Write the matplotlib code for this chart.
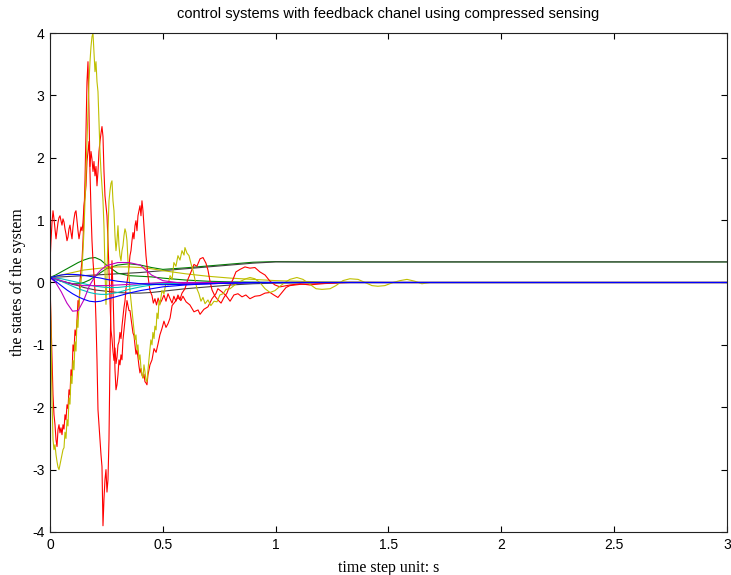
import numpy as np
import matplotlib
matplotlib.use("Agg")
import matplotlib.pyplot as plt

plt.rcParams["axes.unicode_minus"] = False

# colores por defecto de MATLAB (ColorOrder antiguo)
C_B = (0, 0, 1)
C_G = (0, 0.5, 0)
C_R = (1, 0, 0)
C_C = (0, 0.75, 0.75)
C_M = (0.75, 0, 0.75)
C_Y = (0.75, 0.75, 0)
C_K = (0.25, 0.25, 0.25)

# --- estados ruidosos: tramo inicial (paso fino) ---
t_early = np.linspace(0, 0.443, 101)

red1_early = [0.32, 0.67, 0.96, 1.15, 1.02, 0.86, 0.70, 0.83, 0.96, 1.04,
              1.07, 0.99, 0.92, 1.02, 0.97, 0.86, 0.78, 0.67, 0.73, 0.86,
              0.92, 0.80, 0.70, 0.89, 1.02, 1.12, 1.15, 0.99, 0.83, 0.70,
              0.80, 0.89, 0.83, 0.96, 1.23, 1.37, 1.55, 1.94, 2.10, 2.26,
              1.86, 2.10, 1.98, 1.78, 1.94, 1.71, 1.86, 1.55, 1.78, 2.10,
              2.26, 2.39, 2.50, 2.34, 1.78, 1.39, 1.23, 1.07, 0.67, 0.19,
              -0.29, -0.76, -0.90, -1.10, -1.25, -1.05, -1.30, -1.20, -1.00, -0.95,
              -0.80, -0.90, -0.70, -0.55, -0.40, -0.30, -0.10, 0.00, 0.10, 0.25,
              0.43, 0.51, 0.67, 0.80, 0.70, 0.91, 0.99, 0.83, 1.07, 1.15,
              1.23, 1.07, 1.31, 1.15, 0.91, 0.67, 0.43, 0.27, 0.11, -0.02,
              -0.13]
red1_tail_t = [0.452, 0.458, 0.465, 0.472, 0.479, 0.487, 0.496, 0.505, 0.514, 0.523,
               0.532, 0.541, 0.549, 0.558, 0.567, 0.576, 0.585, 0.598,
               0.611, 0.625, 0.638, 0.651, 0.665, 0.678, 0.691, 0.700, 0.709, 0.718,
               0.731, 0.744, 0.758, 0.771, 0.784, 0.798, 0.811, 0.824, 0.842, 0.864,
               0.886, 0.908, 0.930, 0.953, 0.975, 0.997, 1.019, 1.063, 1.108, 1.152,
               1.196, 1.285, 3.0]
red1_tail_y = [-0.21, -0.33, -0.26, -0.36, -0.25, -0.34, -0.28, -0.20, -0.30, -0.18,
               -0.26, -0.33, -0.22, -0.30, -0.20, -0.27, -0.17, -0.10,
               0.05, 0.17, 0.29, 0.26, 0.38, 0.40, 0.31, 0.20, 0.02, -0.12,
               -0.22, -0.28, -0.33, -0.24, -0.17, -0.04, 0.05, 0.17, 0.21, 0.25,
               0.23, 0.24, 0.17, 0.12, 0.02, -0.04, -0.07, -0.04, -0.02, -0.04,
               -0.02, 0.00, 0.00]

red2_early = [0.00, -0.61, -1.24, -1.80, -2.12, -2.28, -2.52, -2.63, -2.36, -2.28,
              -2.41, -2.33, -2.44, -2.28, -2.35, -2.12, -2.20, -1.96, -2.02, -1.72,
              -1.80, -1.40, -1.50, -1.00, -1.10, -0.76, -0.85, -0.61, -0.29, -0.40,
              0.03, 0.19, 0.35, 0.67, 1.07, 1.63, 2.42, 3.22, 3.54, 2.74,
              1.78, 1.15, 0.67, 0.35, 0.11, -0.13, -0.61, -1.24, -2.04, -2.28,
              -2.52, -2.76, -2.95, -3.90, -3.47, -3.16, -3.00, -3.36, -3.16, -2.52,
              -1.24, -0.29, 0.35, -0.13, -0.76, -1.40, -1.72, -1.64, -1.48, -1.24,
              -1.32, -1.16, -1.24, -0.92, -0.76, -0.61, -0.45, -0.29, -0.37, -0.45,
              -0.45, -0.57, -0.69, -0.81, -0.85, -1.00, -1.15, -1.08, -1.20, -1.34,
              -1.45, -1.38, -1.48, -1.53, -1.47, -1.59, -1.61, -1.64, -1.48, -1.40,
              -1.32]
red2_tail_t = [0.452, 0.461, 0.470, 0.479, 0.487, 0.496, 0.505, 0.514, 0.523, 0.532,
               0.541, 0.554, 0.567, 0.580, 0.589, 0.603, 0.620, 0.638, 0.656, 0.665,
               0.682, 0.700, 0.718, 0.735, 0.744, 0.762, 0.780, 0.798, 0.815, 0.833,
               0.851, 0.868, 0.886, 0.908, 0.930, 0.953, 0.975, 0.992, 1.010, 1.028,
               1.046, 1.063, 1.108, 1.196, 1.329, 3.0]
red2_tail_y = [-1.24, -1.06, -1.12, -0.98, -0.84, -0.74, -0.62, -0.72, -0.66, -0.57,
               -0.37, -0.31, -0.24, -0.29, -0.22, -0.31, -0.36, -0.47, -0.44, -0.51,
               -0.43, -0.39, -0.26, -0.18, -0.10, -0.15, -0.21, -0.30, -0.20, -0.18,
               -0.23, -0.20, -0.26, -0.22, -0.21, -0.17, -0.16, -0.20, -0.24, -0.16,
               -0.08, -0.05, -0.03, -0.02, 0.00, 0.00]

yellow1_early = [0.00, -0.76, -1.88, -2.52, -2.68, -2.60, -2.76, -2.87, -2.96, -3.00,
                 -2.92, -2.84, -2.76, -2.68, -2.65, -2.40, -2.50, -2.20, -2.30, -1.85,
                 -1.95, -1.50, -1.62, -1.25, -1.40, -0.95, -1.10, -0.60, -0.72, -0.35,
                 -0.13, 0.00, 0.19, 0.51, 0.83, 1.31, 1.78, 2.26, 2.74, 3.22,
                 3.54, 3.78, 3.94, 4.00, 3.70, 3.38, 3.54, 3.22, 3.06, 2.58,
                 2.10, 1.78, 1.55, 1.31, 0.90, 0.20, -0.35, 0.10, 0.80, 1.31,
                 1.47, 1.59, 1.63, 1.31, 1.15, 0.75, 0.51, 0.67, 0.91, 0.59,
                 0.43, 0.35, 0.51, 0.59, 0.75, 0.86, 0.80, 0.67, 0.35, 0.11,
                 -0.13, -0.29, -0.45, -0.61, -0.76, -0.92, -0.84, -1.08, -1.00, -1.24,
                 -1.16, -1.37, -1.48, -1.53, -1.32, -1.43, -1.56, -1.59, -1.40, -1.24,
                 -1.08]
yellow1_tail_t = [0.447, 0.452, 0.456, 0.461, 0.465, 0.470, 0.474, 0.479, 0.483, 0.487,
                  0.496, 0.505, 0.514, 0.523, 0.532, 0.541, 0.549, 0.558, 0.567, 0.576,
                  0.585, 0.594, 0.598, 0.607, 0.616, 0.625, 0.634, 0.642, 0.651, 0.660,
                  0.669, 0.678, 0.687, 0.700, 0.713, 0.727, 0.740, 0.753, 0.767, 0.780,
                  0.798, 0.815, 0.833, 0.851, 0.868, 0.886, 0.908, 0.930, 0.953, 0.975,
                  0.997, 1.019, 1.041, 1.063, 1.094, 1.121, 1.152, 1.179, 1.205, 1.241,
                  1.267, 1.298, 1.329, 1.365, 1.396, 1.427, 1.453, 1.484, 1.520, 1.551,
                  1.582, 1.617, 1.648, 1.684, 3.0]
yellow1_tail_y = [-0.92, -1.00, -0.80, -0.90, -0.70, -0.76, -0.49, -0.58, -0.29, -0.36,
                  -0.13, -0.18, 0.00, -0.04, 0.11, 0.05, 0.32, 0.26, 0.43, 0.36,
                  0.51, 0.44, 0.56, 0.47, 0.43, 0.30, 0.19, 0.05, -0.10, -0.18,
                  -0.30, -0.24, -0.34, -0.28, -0.37, -0.30, -0.31, -0.20, -0.18, -0.11,
                  -0.10, -0.05, 0.00, 0.03, 0.06, 0.08, 0.06, 0.00, -0.10, -0.16,
                  -0.13, -0.06, 0.00, 0.05, 0.08, 0.05, -0.03, -0.10, -0.11, -0.10,
                  -0.05, 0.03, 0.06, 0.05, 0.00, -0.05, -0.06, -0.05, 0.00, 0.03,
                  0.05, 0.02, -0.02, 0.00, 0.00]

# --- estados suaves ---
t_s = [0, 0.025, 0.05, 0.075, 0.1, 0.125, 0.15, 0.175, 0.2, 0.225, 0.25, 0.3, 0.35,
       0.4, 0.45, 0.5, 0.6, 0.7, 0.8, 0.9, 1.0, 1.2, 1.5, 2.0, 3.0]
blue1 = [0.08, 0.10, 0.12, 0.13, 0.13, 0.125, 0.115, 0.10, 0.085, 0.07, 0.05, 0.02, 0.0,
         -0.02, -0.03, -0.035, -0.03, -0.02, -0.01, -0.005, 0, 0, 0, 0, 0]
blue2 = [0.08, 0.02, -0.05, -0.12, -0.18, -0.23, -0.27, -0.30, -0.31, -0.30, -0.27, -0.22,
         -0.17, -0.13, -0.10, -0.07, -0.04, -0.02, -0.01, 0, 0, 0, 0, 0, 0]
green1 = [0.08, 0.12, 0.17, 0.22, 0.27, 0.32, 0.36, 0.39, 0.40, 0.36, 0.28, 0.15, 0.11,
          0.10, 0.09, 0.07, 0.04, 0.02, 0.01, 0.005, 0, 0, 0, 0, 0]
green2 = [0.08, 0.05, 0.02, 0.0, -0.02, -0.02, 0.0, 0.04, 0.10, 0.16, 0.22, 0.28, 0.30,
          0.28, 0.24, 0.21, 0.235, 0.265, 0.295, 0.325, 0.335, 0.33, 0.33, 0.33, 0.33]
cyan1 = [0.08, 0.05, 0.02, -0.02, -0.06, -0.10, -0.13, -0.16, -0.18, -0.19, -0.19, -0.16,
         -0.11, -0.07, -0.04, -0.02, -0.01, 0, 0, 0, 0, 0, 0, 0, 0]
cyan2 = [0.08, 0.07, 0.06, 0.04, 0.02, 0.0, -0.02, -0.04, -0.06, -0.07, -0.08, -0.08,
         -0.06, -0.04, -0.02, -0.01, 0, 0, 0, 0, 0, 0, 0, 0, 0]
magenta1 = [0.08, 0.0, -0.15, -0.33, -0.46, -0.45, -0.28, -0.05, 0.10, 0.20, 0.27, 0.32,
            0.32, 0.28, 0.12, 0.03, -0.02, -0.02, -0.01, 0, 0, 0, 0, 0, 0]
magenta2 = [0.08, 0.06, 0.03, 0.0, -0.02, -0.04, -0.05, -0.05, -0.05, -0.05, -0.05, -0.04,
            -0.03, -0.02, -0.01, 0, 0, 0, 0, 0, 0, 0, 0, 0, 0]
yellow2 = [0.08, 0.10, 0.12, 0.14, 0.16, 0.18, 0.20, 0.21, 0.22, 0.23, 0.24, 0.25, 0.25,
           0.24, 0.22, 0.19, 0.14, 0.10, 0.07, 0.05, 0.03, 0.01, 0, 0, 0]
black1 = [0.08, 0.085, 0.09, 0.095, 0.10, 0.105, 0.11, 0.115, 0.12, 0.125, 0.13, 0.14,
          0.15, 0.16, 0.175, 0.19, 0.22, 0.25, 0.28, 0.31, 0.33, 0.33, 0.33, 0.33, 0.33]
black2 = [0.08, 0.05, 0.02, 0.0, -0.03, -0.05, -0.08, -0.10, -0.12, -0.13, -0.14, -0.16,
          -0.17, -0.17, -0.16, -0.14, -0.10, -0.07, -0.04, -0.02, -0.01, 0, 0, 0, 0]

red1_t = np.concatenate([t_early, red1_tail_t])
red1 = np.concatenate([red1_early, red1_tail_y])
red2_t = np.concatenate([t_early, red2_tail_t])
red2 = np.concatenate([red2_early, red2_tail_y])
yel1_t = np.concatenate([t_early, yellow1_tail_t])
yel1 = np.concatenate([yellow1_early, yellow1_tail_y])

# --- grafico ---
fig = plt.figure(figsize=(7.31, 5.75), dpi=100)
ax = fig.add_axes([0.0684, 0.0748, 0.9261, 0.8678])

lw = 0.8
ax.plot(t_s, green2, color=C_G, lw=lw)
ax.plot(t_s, black1, color=C_K, lw=lw)
ax.plot(t_s, green1, color=C_G, lw=lw)
ax.plot(t_s, black2, color=C_K, lw=lw)
ax.plot(t_s, yellow2, color=C_Y, lw=lw)
ax.plot(red2_t, red2, color=C_R, lw=lw)
ax.plot(red1_t, red1, color=C_R, lw=lw)
ax.plot(yel1_t, yel1, color=C_Y, lw=lw)
ax.plot(t_s, cyan1, color=C_C, lw=lw)
ax.plot(t_s, cyan2, color=C_C, lw=lw)
ax.plot(t_s, magenta1, color=C_M, lw=lw)
ax.plot(t_s, magenta2, color=C_M, lw=lw)
ax.plot(t_s, blue2, color=C_B, lw=lw)
ax.plot(t_s, blue1, color=C_B, lw=lw)

ax.set_xlim(0, 3)
ax.set_ylim(-4, 4)
ax.set_xticks([0, 0.5, 1, 1.5, 2, 2.5, 3])
ax.set_xticklabels(["0", "0.5", "1", "1.5", "2", "2.5", "3"])
ax.set_yticks(range(-4, 5))
ax.tick_params(direction="in", length=4, width=0.8, top=True, right=True,
               labelsize=10, pad=4)
for lab in ax.get_xticklabels() + ax.get_yticklabels():
    lab.set_fontfamily("Liberation Sans")
for s in ax.spines.values():
    s.set_linewidth(0.8)
    s.set_color("#222222")

ax.set_xlabel("time step unit: s", family="Liberation Serif", fontsize=11.5, labelpad=6)
ax.set_ylabel("the states of the system", family="Liberation Serif", fontsize=11.5, labelpad=4)
ax.set_title("control systems with feedback chanel using compressed sensing",
             family="Liberation Sans", fontsize=10.5, pad=11)

plt.savefig("out.png", dpi=100)
